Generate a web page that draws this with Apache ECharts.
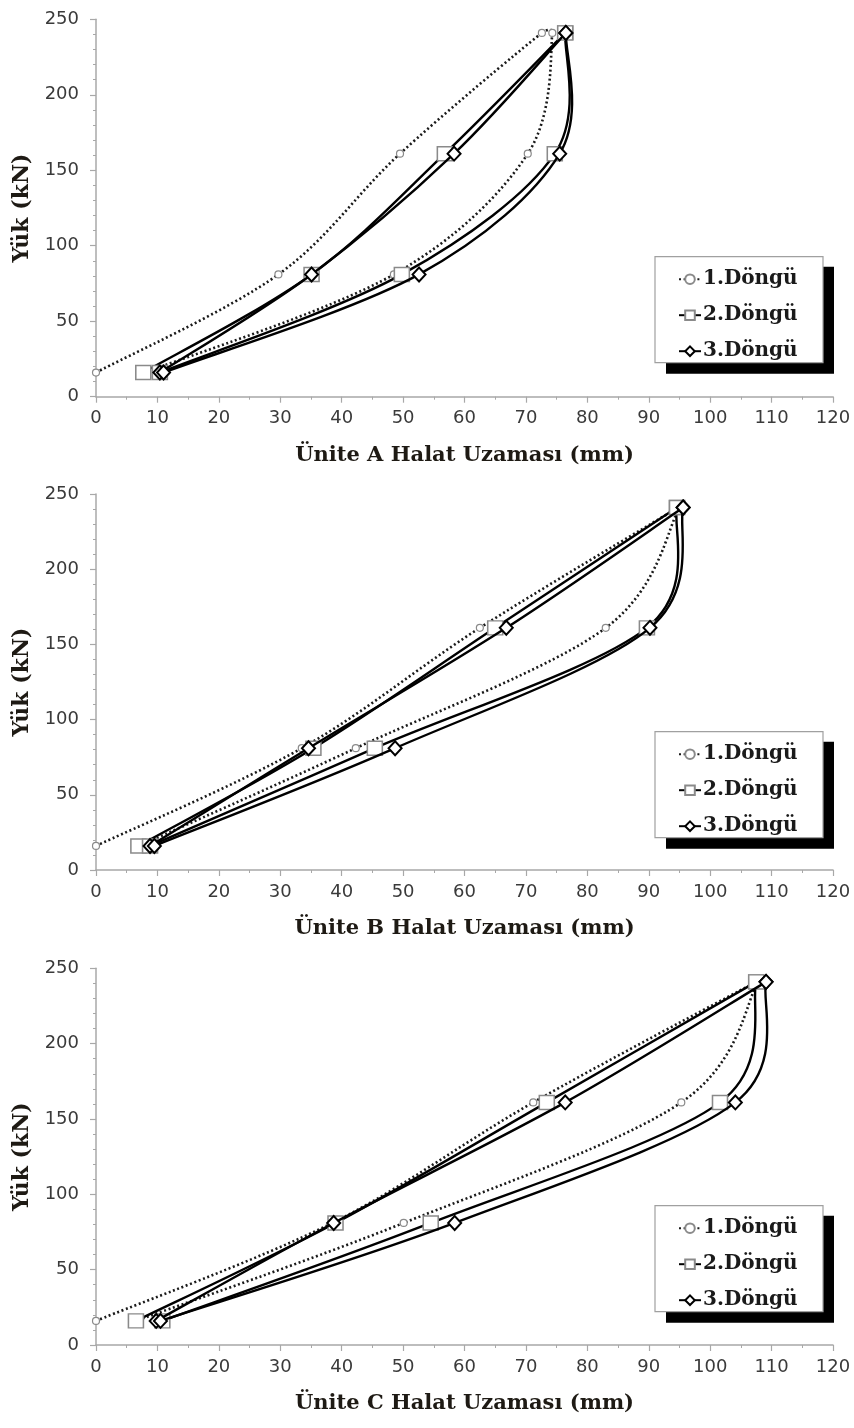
<!DOCTYPE html>
<html><head><meta charset="utf-8">
<script src="https://cdn.jsdelivr.net/npm/echarts@6/dist/echarts.min.js"></script>
<style>html,body{margin:0;padding:0;background:#fff}#c{width:854px;height:1428px}</style>
</head><body><div id="c"></div>
<script>
// Load steps (kN): loading 16→241, peak reading (load end / unload start), unloading back to 16
const loadKN = [16, 81, 161, 241, 241, 161, 81, 16];
const seriesNames = ['1.Döngü', '2.Döngü', '3.Döngü'];
const xTitles = ['Ünite A Halat Uzaması (mm)', 'Ünite B Halat Uzaması (mm)', 'Ünite C Halat Uzaması (mm)'];
const yTitle = 'Yük (kN)';
// Elongation (mm) per unit and cycle
const unitA_c1 = [0, 29.7, 49.5, 72.6, 74.3, 70.3, 48.5, 8];
const unitA_c2 = [7.7, 35.1, 56.8, 76.4, 76.4, 74.7, 49.8, 10.4];
const unitA_c3 = [10.4, 35.1, 58.3, 76.5, 76.5, 75.5, 52.6, 11];
const unitB_c1 = [0, 33.5, 62.5, 94.8, 95.0, 83.0, 42.3, 7];
const unitB_c2 = [6.9, 35.4, 65.0, 94.6, 94.6, 89.7, 45.4, 8.8];
const unitB_c3 = [8.8, 34.6, 66.8, 95.6, 95.6, 90.2, 48.7, 9.5];
const unitC_c1 = [0, 38.5, 71.2, 107.5, 107.8, 95.3, 50.1, 6.5];
const unitC_c2 = [6.5, 39.0, 73.4, 107.5, 107.5, 101.6, 54.5, 10.8];
const unitC_c3 = [9.8, 38.7, 76.4, 109.1, 109.1, 104.1, 58.4, 10.5];

const units = [[unitA_c1, unitA_c2, unitA_c3], [unitB_c1, unitB_c2, unitB_c3], [unitC_c1, unitC_c2, unitC_c3]];

const gridTops = [19.3, 494, 968.3];
const gridHeights = [377.4, 376, 376.7];
const legendTops = [256.7, 731.7, 1205.7];

const labelFont = {fontFamily: 'DejaVu Sans', fontSize: 18, color: '#3a3a3a'};
const titleFont = {fontFamily: 'DejaVu Serif', fontWeight: 'bold', color: '#1e1a14'};
const axisGrey = '#a8a8a8';

const lineStyles = [
  {stroke: '#1a1a1a', lineWidth: 2.6, lineDash: [2, 2.6]},
  {stroke: '#000', lineWidth: 2.4, lineDash: null},
  {stroke: '#000', lineWidth: 2.4, lineDash: null}
];

// Spreadsheet-style smoothed curve: cubic Bezier between consecutive measured points,
// tangents from the neighbouring points (1/6 rule, limited to half a segment),
// positioned with the axes' own scales (api.coord).
function curveRenderer(count, st) {
  const dist = (a, b) => Math.hypot(b[0] - a[0], b[1] - a[1]);
  return function (params, api) {
    const i = params.dataIndexInside;
    if (i >= count - 1) return null;
    const pt = (k) => api.coord([api.value(0, k), api.value(1, k)]);
    const p0 = pt(Math.max(i - 1, 0)), p1 = pt(i), p2 = pt(i + 1), p3 = pt(Math.min(i + 2, count - 1));
    const d12 = dist(p1, p2), d02 = dist(p0, p2), d13 = dist(p1, p3);
    const t = 1 / 6;
    const f1 = d02 === 0 ? 0 : (d02 * t < d12 / 2 ? t : d12 / d02 / 2);
    const f2 = d13 === 0 ? 0 : (d13 * t < d12 / 2 ? t : d12 / d13 / 2);
    return {
      type: 'bezierCurve',
      shape: {
        x1: p1[0], y1: p1[1], x2: p2[0], y2: p2[1],
        cpx1: p1[0] + (p2[0] - p0[0]) * f1, cpy1: p1[1] + (p2[1] - p0[1]) * f1,
        cpx2: p2[0] - (p3[0] - p1[0]) * f2, cpy2: p2[1] - (p3[1] - p1[1]) * f2
      },
      style: {fill: 'none', stroke: st.stroke, lineWidth: st.lineWidth, lineDash: st.lineDash, lineCap: 'butt'}
    };
  };
}

const symbolDefs = [
  {symbol: 'circle', symbolSize: 7, itemStyle: {color: '#fff', borderColor: '#8a8a8a', borderWidth: 1.2},
   lineStyle: {color: '#1a1a1a', width: 2.6, type: [2, 2.6], opacity: 0}},
  {symbol: 'rect', symbolSize: [15, 14], itemStyle: {color: '#fff', borderColor: '#8a8a8a', borderWidth: 1.5},
   lineStyle: {color: '#000', width: 2.4, opacity: 0}},
  {symbol: 'diamond', symbolSize: [13, 14], itemStyle: {color: '#fff', borderColor: '#000', borderWidth: 2},
   lineStyle: {color: '#000', width: 2.4, opacity: 0}}
];

const grids = [], xAxes = [], yAxes = [], series = [], legends = [], graphics = [];
for (let i = 0; i < 3; i++) {
  grids.push({left: 96, width: 737, top: gridTops[i], height: gridHeights[i], containLabel: false});
  xAxes.push({
    type: 'value', gridIndex: i, min: 0, max: 120, interval: 10,
    name: xTitles[i], nameLocation: 'middle', nameGap: 48,
    nameTextStyle: Object.assign({fontSize: 21}, titleFont),
    axisLine: {show: true, onZero: false, lineStyle: {color: axisGrey, width: 1.5}},
    axisTick: {show: true, length: 6, lineStyle: {color: axisGrey, width: 1.2}},
    minorTick: {show: true, splitNumber: 2, length: 3, lineStyle: {color: axisGrey, width: 1}},
    splitLine: {show: false},
    axisLabel: Object.assign({margin: 13}, labelFont)
  });
  yAxes.push({
    type: 'value', gridIndex: i, min: 0, max: 250, interval: 50,
    name: yTitle, nameLocation: 'middle', nameGap: 58,
    nameTextStyle: Object.assign({fontSize: 22}, titleFont),
    axisLine: {show: true, onZero: false, lineStyle: {color: axisGrey, width: 1.5}},
    axisTick: {show: true, length: 6, lineStyle: {color: axisGrey, width: 1.2}},
    minorTick: {show: true, splitNumber: 5, length: 3, lineStyle: {color: axisGrey, width: 1}},
    splitLine: {show: false},
    axisLabel: Object.assign({margin: 17}, labelFont)
  });
  const cyc = units[i];
  for (let c = 0; c < 3; c++) {
    const pts = cyc[c].map((x, k) => [x, loadKN[k]]);
    // marker series (also feeds the legend)
    series.push(Object.assign({
      name: seriesNames[c], type: 'line', xAxisIndex: i, yAxisIndex: i, data: pts,
      z: 3 + c * 2, showSymbol: true
    }, symbolDefs[c]));
  }
  for (let c = 0; c < 3; c++) {
    const pts = cyc[c].map((x, k) => [x, loadKN[k]]);
    // smoothed curve through the same measured points
    series.push({
      name: seriesNames[c] + ' eğri', type: 'custom', xAxisIndex: i, yAxisIndex: i,
      coordinateSystem: 'cartesian2d', encode: {x: 0, y: 1}, data: pts,
      z: 2 + c * 2, silent: true,
      renderItem: curveRenderer(pts.length, lineStyles[c])
    });
  }
  legends.push({
    data: seriesNames, orient: 'vertical', left: 673, top: legendTops[i] + 6,
    itemWidth: 22, itemHeight: 12, itemGap: 13, selectedMode: false, z: 30,
    lineStyle: {opacity: 1},
    textStyle: {fontFamily: 'DejaVu Serif', fontWeight: 'bold', fontSize: 20, color: '#1a1a1a', lineHeight: 23, padding: [0, 0, 0, -3]}
  });
  graphics.push({type: 'rect', z: 20, shape: {x: 666, y: legendTops[i] + 10, width: 168, height: 107}, style: {fill: '#000'}});
  graphics.push({type: 'rect', z: 21, shape: {x: 655, y: legendTops[i], width: 168, height: 106}, style: {fill: '#fff', stroke: '#a0a0a0', lineWidth: 1.2}});
}

const chart = echarts.init(document.getElementById('c'), null, {renderer: 'canvas'});
chart.setOption({
  animation: false,
  backgroundColor: '#fff',
  grid: grids, xAxis: xAxes, yAxis: yAxes, series: series, legend: legends,
  graphic: graphics
});
</script></body></html>
